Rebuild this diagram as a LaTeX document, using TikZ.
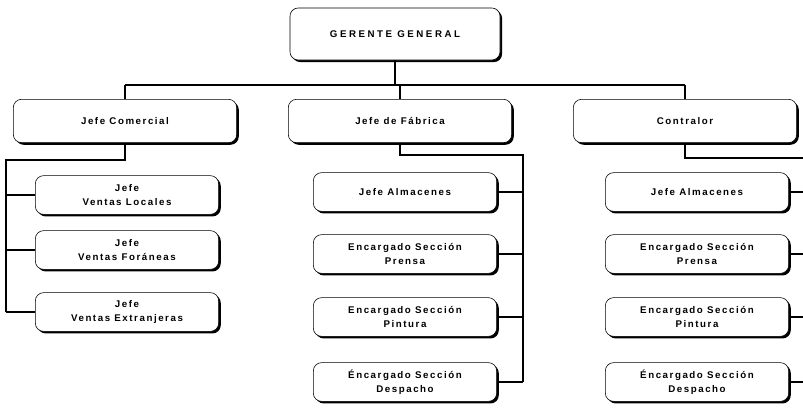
\documentclass[tikz,border=0pt]{standalone}
\usepackage{fontspec}
\newfontfamily\orgfont[LetterSpace=16]{Liberation Sans}
\newfontfamily\topfont[LetterSpace=26]{Liberation Sans}
\usetikzlibrary{positioning,shadows}

\begin{document}
\begin{tikzpicture}[
  x=0.3mm, y=-0.3mm,
  every node/.style={font=\orgfont\bfseries\fontsize{8.3}{11.5}\selectfont, align=center},
  box/.style={draw, rounded corners=7pt, fill=white, line width=0.5pt, inner sep=1pt,
    drop shadow={shadow xshift=1.8pt, shadow yshift=-1.8pt, fill=black, opacity=1}},
  topbox/.style={box, minimum width=63mm, minimum height=15.6mm,
    font=\topfont\bfseries\fontsize{8.3}{11.5}\selectfont},
  headbox/.style={box, minimum width=67mm, minimum height=13mm},
  subbox/.style={box, minimum width=55mm, minimum height=11.6mm},
  link/.style={draw, line width=1.1pt}
]
\useasboundingbox (0,0) rectangle (803,407);
\clip (0,0) rectangle (803,407);

% top
\node[topbox] (gg) at (395,34) {GERENTE GENERAL};

% jefes
\node[headbox] (jc)  at (125,121) {Jefe Comercial};
\node[headbox] (jf)  at (400,121) {Jefe de Fábrica};
\node[headbox] (jco) at (685,121) {Contralor};

% comercial
\node[subbox] (vl) at (127,195) {Jefe\\Ventas Locales};
\node[subbox] (vf) at (127,250) {Jefe\\Ventas Foráneas};
\node[subbox] (ve) at (127,312) {Jefe\\Ventas Extranjeras};

% fabrica y contralor
\foreach \pre/\cx in {fa/405, ca/697} {
  \node[subbox] (\pre1) at (\cx,192) {Jefe Almacenes};
  \node[subbox] (\pre2) at (\cx,254) {Encargado Sección\\Prensa};
  \node[subbox] (\pre3) at (\cx,317) {Encargado Sección\\Pintura};
  \node[subbox] (\pre4) at (\cx,382) {Éncargado Sección\\Despacho};
}

% bus
\coordinate (bus) at (0,85);
\draw[link] (gg.south) -- (gg.south |- bus);
\draw[link] (jc.north |- bus) -- (jco.north |- bus);
\foreach \n in {jc,jf,jco}
  \draw[link] (\n.north |- bus) -- (\n.north);

% comercial bracket
\coordinate (cb) at (6,160);
\draw[link] (jc.south) -- (jc.south |- cb) -- (cb) -- (cb |- ve);
\foreach \n in {vl,vf,ve}
  \draw[link] (cb |- \n) -- (\n.west);

% fabrica bracket
\coordinate (fb) at (523,155);
\draw[link] (jf.south) -- (jf.south |- fb) -- (fb) -- (fb |- fa4);
\foreach \i in {1,...,4}
  \draw[link] (fa\i.east) -- (fb |- fa\i);

% contralor bracket
\coordinate (kb) at (806,158);
\draw[link] (jco.south) -- (jco.south |- kb) -- (kb) -- (kb |- ca4);
\foreach \i in {1,...,4}
  \draw[link] (ca\i.east) -- (kb |- ca\i);
\end{tikzpicture}
\end{document}
